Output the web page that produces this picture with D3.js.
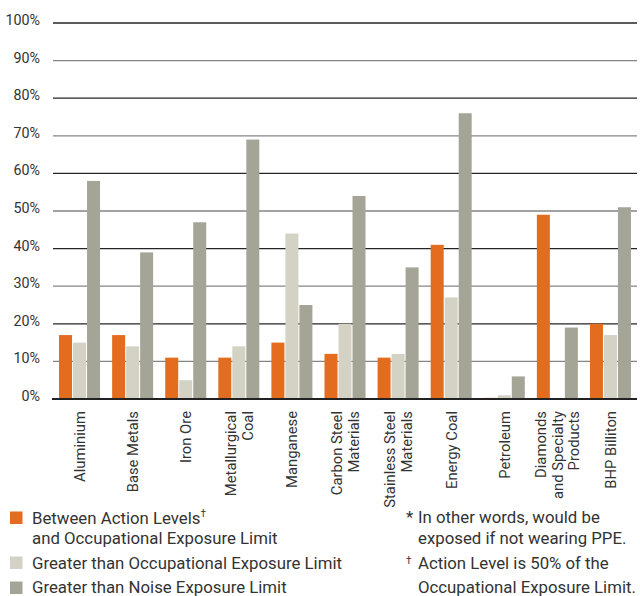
<!DOCTYPE html>
<html><head><meta charset="utf-8">
<script src="https://cdn.jsdelivr.net/npm/d3@7"></script>
<style>
body{margin:0;background:#fff;}
text{font-family:Roboto,"Open Sans",sans-serif;fill:#333;}
</style></head>
<body><svg id="c" width="640" height="596"></svg>
<script>
const categories = [["Aluminium"],["Base Metals"],["Iron Ore"],["Metallurgical","Coal"],["Manganese"],["Carbon Steel","Materials"],["Stainless Steel","Materials"],["Energy Coal"],["Petroleum"],["Diamonds","and Specialty","Products"],["BHP Billiton"]];
const seriesNames = ["Between Action Levels","Greater than Occupational Exposure Limit","Greater than Noise Exposure Limit"];
const actionLevels = [17,17,11,11,15,12,11,41,0.3,49,20];
const occupational = [15,14,5,14,44,20,12,27,1,0,17];
const noise = [58,39,47,69,25,54,35,76,6,19,51];
const yTicks = [0,10,20,30,40,50,60,70,80,90,100];
const colors = ["#e36c1e","#d3d2c5","#a5a597"];

const svg = d3.select("#c");
const series = [actionLevels, occupational, noise];
const y = d3.scaleLinear().domain([0,100]).range([399,23]);
const x0 = d3.scaleBand().domain(d3.range(categories.length)).range([53,637]).paddingInner(0.2277).paddingOuter(0.1138);
const x1 = d3.scaleBand().domain([0,1,2]).range([0,x0.bandwidth()]).paddingInner(0.0714).paddingOuter(0);

// gridlines
const yAxis = d3.axisLeft(y).tickValues(yTicks).tickSize(0).tickFormat(d=>d+"%");
svg.append("g").selectAll("line").data(yTicks.slice(1)).join("line")
  .attr("x1",53).attr("x2",637).attr("y1",d=>y(d)).attr("y2",d=>y(d))
  .attr("stroke",d=>(d/10)%2===0?"#252525":"#858585").attr("stroke-width",1.3);
const ya = svg.append("g").attr("transform","translate(43,0)").call(yAxis);
ya.select(".domain").remove();
ya.selectAll("text").attr("font-size",14.3).attr("font-family","Roboto").attr("fill","#333").attr("dy","0.1em");

// bars
const g = svg.append("g");
categories.forEach((c,i)=>{
  series.forEach((s,j)=>{
    if(s[i]<=0) return;
    g.append("rect").attr("x",x0(i)+x1(j)).attr("width",x1.bandwidth())
      .attr("y",y(s[i])).attr("height",y(0)-y(s[i])).attr("fill",colors[j]);
  });
});
svg.append("line").attr("x1",52).attr("x2",637).attr("y1",y(0)).attr("y2",y(0)).attr("stroke","#222").attr("stroke-width",2);

// x labels
const xl = svg.append("g");
categories.forEach((lines,i)=>{
  const cx = x0(i)+x0.bandwidth()/2;
  const n = lines.length;
  const lh = 16.5;
  const t = xl.append("text").attr("transform",`translate(${cx},411) rotate(-90)`)
    .attr("text-anchor","end").attr("font-size",14.8);
  lines.forEach((l,k)=>{
    t.append("tspan").attr("x",0).attr("y", 5.5 + (k-(n-1)/2)*lh).text(l);
  });
});

// legend
const lg = svg.append("g");
const legY = [511.5,556.5,581.5];
const fs = 16.8;
seriesNames.forEach((nm,j)=>{
  lg.append("rect").attr("x",10).attr("y",legY[j]).attr("width",12.5).attr("height",12.5).attr("fill",colors[j]);
});
const t0 = lg.append("text").attr("x",32).attr("y",523.5).attr("font-size",fs);
t0.append("tspan").text(seriesNames[0]);
t0.append("tspan").attr("font-size",10).attr("dy","-7").text("\u2020");
lg.append("text").attr("x",32).attr("y",543.5).attr("font-size",fs).text("and Occupational Exposure Limit");
lg.append("text").attr("x",32).attr("y",569).attr("font-size",fs).text(seriesNames[1]);
lg.append("text").attr("x",32).attr("y",593).attr("font-size",fs).text(seriesNames[2]);

// footnotes
const fn = svg.append("g");
fn.append("text").attr("x",406).attr("y",523).attr("font-size",fs).text("*");
fn.append("text").attr("x",418).attr("y",523).attr("font-size",fs).text("In other words, would be");
fn.append("text").attr("x",418).attr("y",543.5).attr("font-size",fs).text("exposed if not wearing PPE.");
fn.append("text").attr("x",406).attr("y",564).attr("font-size",10).text("\u2020");
fn.append("text").attr("x",418).attr("y",569).attr("font-size",fs).text("Action Level is 50% of the");
fn.append("text").attr("x",418).attr("y",593).attr("font-size",fs).text("Occupational Exposure Limit.");
</script></body></html>
